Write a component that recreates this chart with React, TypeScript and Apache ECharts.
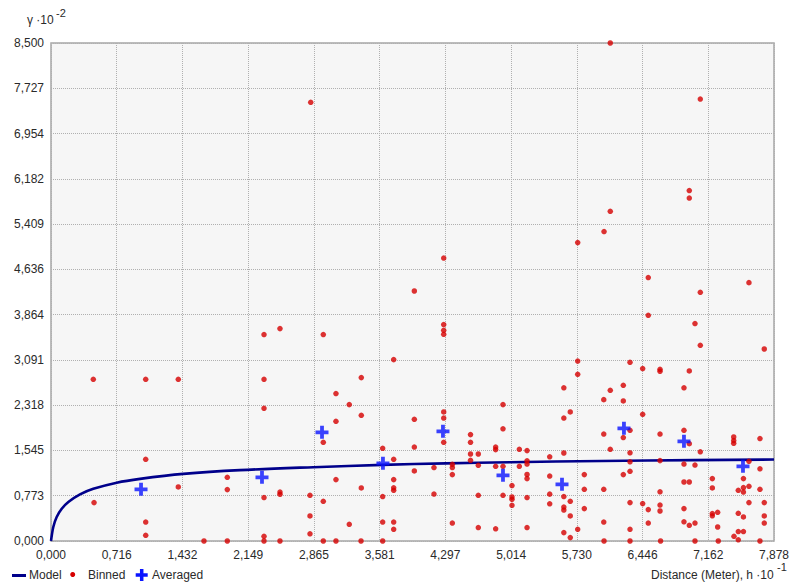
import React, { useEffect, useRef } from "react";
import * as echarts from "echarts";

const X_TICKS = [0, 0.716, 1.432, 2.149, 2.865, 3.581, 4.297, 5.014, 5.73, 6.446, 7.162, 7.878];
const Y_TICKS = [0, 0.773, 1.545, 2.318, 3.091, 3.864, 4.636, 5.409, 6.182, 6.954, 7.727, 8.5];

const MODEL_X = [0, 0.025, 0.062, 0.117, 0.189, 0.316, 0.461, 0.716, 0.97, 1.442, 2.059, 2.858, 3.614, 4.3, 5.0, 6.0, 7.0, 7.878];
const MODEL_Y = [0, 0.24, 0.41, 0.55, 0.665, 0.795, 0.89, 0.995, 1.06, 1.145, 1.21, 1.26, 1.3, 1.325, 1.345, 1.365, 1.38, 1.39];

const AVG_X = [0.981, 2.299, 2.953, 3.617, 4.271, 4.925, 5.568, 6.243, 6.897, 7.54];
const AVG_Y = [0.882, 1.087, 1.855, 1.326, 1.872, 1.121, 0.968, 1.924, 1.702, 1.275];

const BINNED: [number, number][] = [
  [0.461, 2.76], [0.469, 0.655], [1.032, 2.76], [1.032, 1.394], [1.032, 0.324], [1.032, 0.097],
  [1.387, 2.76], [1.387, 0.922], [1.667, 0], [1.921, 1.087], [1.921, 0.877], [1.921, 0],
  [2.321, 3.523], [2.321, 2.76], [2.321, 2.265], [2.321, 0.741], [2.321, 0.08], [2.321, 0],
  [2.495, 3.625], [2.495, 0.836], [2.495, 0.797], [2.495, 0],
  [2.83, 7.488], [2.822, 0.78], [2.822, 0.427], [2.822, 0.123],
  [2.967, 3.523], [2.967, 1.685], [2.967, 0.678], [2.967, 0],
  [3.105, 2.516], [3.105, 2.043], [3.105, 1.048], [3.105, 0],
  [3.25, 2.328], [3.25, 0.285],
  [3.381, 2.789], [3.381, 2.145], [3.381, 0.905], [3.378, 0],
  [3.614, 1.582], [3.614, 0.758], [3.614, 0.324], [3.614, 0],
  [3.734, 3.096], [3.734, 1.394], [3.734, 1.048], [3.734, 0.908], [3.734, 0.865], [3.734, 0.324], [3.734, 0.2],
  [3.959, 4.267], [3.959, 2.077], [3.959, 1.604], [3.959, 1.195],
  [4.173, 1.253], [4.173, 0.802],
  [4.279, 4.83], [4.279, 3.694], [4.279, 3.596], [4.279, 3.528], [4.279, 2.202], [4.279, 2.099], [4.279, 1.685],
  [4.373, 1.309], [4.373, 1.253], [4.373, 1.133], [4.373, 0.307],
  [4.571, 1.816], [4.571, 1.685], [4.571, 1.485], [4.571, 1.377],
  [4.656, 1.485], [4.656, 1.292], [4.656, 0.78], [4.656, 0.229],
  [4.845, 1.604], [4.845, 1.56], [4.845, 1.275], [4.845, 0.208],
  [4.925, 2.328], [4.925, 1.915], [4.925, 1.275], [4.925, 0.78],
  [5.023, 0.946], [5.023, 0.751], [5.023, 0.712], [5.023, 0.609],
  [5.103, 1.565], [5.103, 1.275],
  [5.187, 1.543], [5.187, 1.369], [5.187, 1.314], [5.187, 1.135], [5.187, 1.065], [5.187, 0.741], [5.187, 0.229],
  [5.434, 1.437], [5.434, 1.108], [5.434, 0.8], [5.434, 0.635],
  [5.588, 2.615], [5.588, 2.099], [5.588, 1.502], [5.588, 0.758], [5.588, 0.58], [5.588, 0.529], [5.588, 0.143],
  [5.658, 2.202], [5.658, 0.678], [5.658, 0.427], [5.658, 0.058],
  [5.739, 5.093], [5.739, 3.072], [5.739, 2.845], [5.739, 0.2],
  [5.811, 1.133], [5.811, 0.882], [5.811, 0.553],
  [6.026, 5.281], [6.023, 2.413], [6.023, 1.826], [6.023, 0.882], [6.023, 0.324], [6.026, 0],
  [6.094, 8.5], [6.094, 5.627], [6.094, 2.572], [6.094, 1.565],
  [6.236, 2.657], [6.236, 2.39], [6.236, 1.765], [6.236, 1.133],
  [6.309, 3.05], [6.309, 1.889], [6.309, 1.505], [6.309, 1.352], [6.309, 1.19], [6.309, 0.655], [6.309, 0.2], [6.309, 0],
  [6.447, 2.943], [6.447, 2.163], [6.447, 0.638],
  [6.508, 4.496], [6.508, 3.852], [6.508, 0.536], [6.508, 0.307],
  [6.636, 2.931], [6.636, 2.897], [6.636, 1.826], [6.636, 1.372], [6.636, 0.84], [6.636, 0.614], [6.636, 0.512], [6.642, 0],
  [6.897, 2.615], [6.897, 1.889], [6.897, 1.314], [6.897, 1.007], [6.897, 0.553], [6.897, 0.328],
  [6.955, 5.981], [6.955, 5.854], [6.955, 2.902], [6.955, 1.662], [6.955, 1.007], [6.955, 0.268],
  [7.017, 3.711], [7.017, 1.297], [7.017, 0.307], [7.017, 0],
  [7.075, 7.544], [7.075, 4.245], [7.075, 3.34], [7.075, 1.522],
  [7.206, 1.065], [7.206, 0.905], [7.206, 0.468], [7.206, 0.43],
  [7.264, 0.49], [7.264, 0.239], [7.271, 0],
  [7.439, 1.775], [7.439, 1.714], [7.439, 1.668], [7.442, 0.08],
  [7.489, 0.865], [7.489, 0.473], [7.489, 0.162], [7.489, 0.02],
  [7.545, 1.065], [7.545, 0.911], [7.545, 0.836], [7.545, 0.41], [7.545, 0.162],
  [7.605, 4.41], [7.605, 1.36], [7.605, 0.934], [7.605, 0.655],
  [7.725, 1.748], [7.725, 1.232], [7.725, 0.882], [7.725, 0],
  [7.772, 3.277], [7.772, 0.655], [7.772, 0.427], [7.772, 0.307],
];

const FONT = "'Liberation Sans', Arial, sans-serif";
const PLUS = "path://M4.25,0H7.75V4.25H12V7.75H7.75V12H4.25V7.75H0V4.25H4.25Z";
const fmt = (v: number) => v.toFixed(3).replace(".", ",");

function plusPoints(cx: number, cy: number, s: number, a: number) {
  const h = s / 2, t = a / 2;
  return [
    [cx - t, cy - h], [cx + t, cy - h], [cx + t, cy - t], [cx + h, cy - t], [cx + h, cy + t],
    [cx + t, cy + t], [cx + t, cy + h], [cx - t, cy + h], [cx - t, cy + t], [cx - h, cy + t],
    [cx - h, cy - t], [cx - t, cy - t],
  ];
}

export default function App() {
  const ref = useRef<HTMLDivElement>(null);
  useEffect(() => {
    if (!ref.current) return;
    const chart = echarts.init(ref.current, null, { renderer: "svg" });
    const textStyle = { fontFamily: FONT, fontSize: 12, fill: "#2a2a2a" };
    chart.setOption({
      animation: false,
      backgroundColor: "#ffffff",
      textStyle: { fontFamily: FONT },
      grid: {
        left: 51, right: 16, top: 43, bottom: 41,
        show: true, backgroundColor: "#f6f6f6", borderColor: "#a6a6a6", borderWidth: 1.5,
        outerBoundsMode: "none",
      },
      xAxis: {
        type: "value", min: 0, max: 7.878,
        axisLine: { show: false },
        axisTick: { show: false, customValues: X_TICKS },
        splitLine: { show: true, lineStyle: { color: "#b0b0b0", type: [1, 1], width: 1 } },
        axisLabel: {
          customValues: X_TICKS, formatter: fmt, color: "#2a2a2a", fontSize: 12, fontFamily: FONT, margin: 8,
        },
      },
      yAxis: {
        type: "value", min: 0, max: 8.5,
        axisLine: { show: false },
        axisTick: { show: false, customValues: Y_TICKS },
        splitLine: { show: true, lineStyle: { color: "#b0b0b0", type: [1, 1], width: 1 } },
        axisLabel: {
          customValues: Y_TICKS, formatter: fmt, color: "#2a2a2a", fontSize: 12, fontFamily: FONT, margin: 7,
        },
      },
      series: [
        {
          name: "Model", type: "line", smooth: 0.3, showSymbol: false,
          data: MODEL_X.map((x, i) => [x, MODEL_Y[i]]),
          lineStyle: { color: "#00008b", width: 2.6 }, z: 2,
        },
        {
          name: "Binned", type: "scatter", symbol: "circle", symbolSize: 5.5,
          data: BINNED, itemStyle: { color: "#d60000" }, z: 3,
        },
        {
          name: "Averaged", type: "scatter", symbol: PLUS, symbolSize: 13,
          data: AVG_X.map((x, i) => [x, AVG_Y[i]]), itemStyle: { color: "#0a14ff" }, z: 4,
        },
      ],
      graphic: [
        { type: "text", left: 27, top: 14, style: { ...textStyle, text: "γ ·10" } },
        { type: "text", left: 56, top: 7, style: { ...textStyle, fontSize: 11, text: "-2" } },
        { type: "text", left: 651, top: 569, style: { ...textStyle, text: "Distance (Meter), h ·10" } },
        { type: "text", left: 777, top: 561, style: { ...textStyle, fontSize: 11, text: "-1" } },
        { type: "rect", shape: { x: 12, y: 574, width: 14, height: 3 }, style: { fill: "#00008b" } },
        { type: "text", left: 29, top: 569, style: { ...textStyle, text: "Model" } },
        { type: "circle", shape: { cx: 72.7, cy: 574.5, r: 2.5 }, style: { fill: "#d60000" } },
        { type: "text", left: 88, top: 569, style: { ...textStyle, text: "Binned" } },
        { type: "polygon", shape: { points: plusPoints(141.7, 575, 12, 3.5) }, style: { fill: "#0a14ff" } },
        { type: "text", left: 152, top: 569, style: { ...textStyle, text: "Averaged" } },
      ],
    });
    return () => chart.dispose();
  }, []);
  return (
    <div
      ref={ref}
      style={{ position: "fixed", left: 0, top: 0, width: 790, height: 582, background: "#fff" }}
    />
  );
}
